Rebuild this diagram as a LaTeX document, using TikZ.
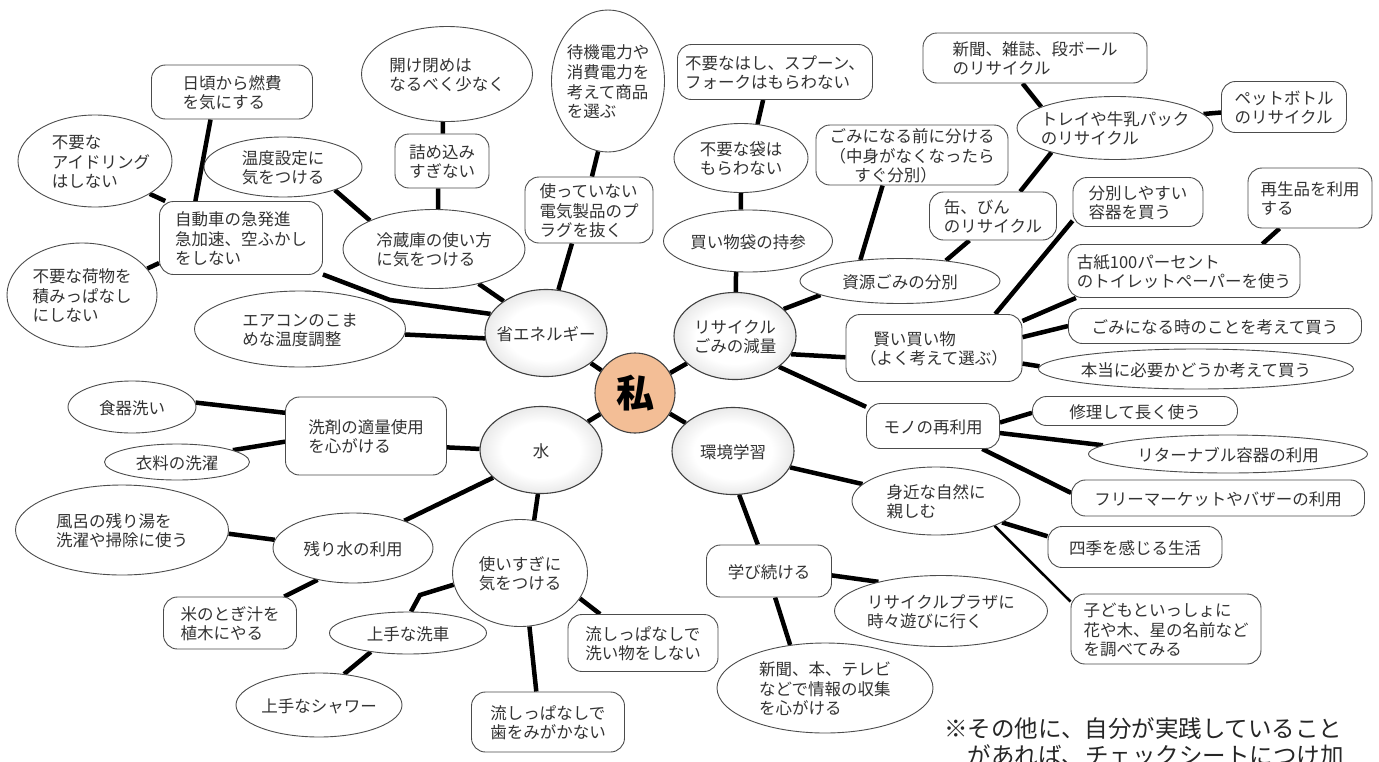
\documentclass[tikz,border=0pt]{standalone}
\usepackage{fontspec}
\setmainfont{Noto Sans CJK JP}
\usetikzlibrary{shapes.geometric}
\pgfdeclarelayer{bg}
\pgfsetlayers{bg,main}
\definecolor{peach}{HTML}{F3BE96}
\pgfdeclareradialshading{hubshade}{\pgfpoint{0bp}{0bp}}{color(0bp)=(white); color(16bp)=(white); color(50bp)=(black!32)}
\newcommand{\tx}[2][l]{\makebox[0pt]{\raisebox{-3pt}[\height][\depth]{\begin{tabular}{@{}#1@{}}#2\end{tabular}}}}
\tikzset{
  every node/.style={font=\fontsize{16.5}{19}\selectfont, text=black!80, inner sep=0pt},
  box/.style 2 args={draw=black!70, line width=.9pt, fill=white, rounded corners=14pt, minimum width=#1pt, minimum height=#2pt},
  oval/.style 2 args={ellipse, draw=black!70, line width=.9pt, fill=white, minimum width=#1pt, minimum height=#2pt},
  hub/.style={ellipse, draw=black!75, line width=1.1pt, shading=hubshade, minimum width=122pt, minimum height=87pt},
  link/.style={line width=4.5pt},
}
\begin{document}
\begin{tikzpicture}[x=1pt,y=-1pt]
\useasboundingbox (0,0) rectangle (1379,761);
\node[circle, draw=black!75, line width=1.1pt, fill=peach, minimum size=80pt, font=\fontsize{38}{38}\selectfont\bfseries, text=black] (me) at (635,393) {私};
\node[hub] (sho) at (546,333) {\tx{省エネルギー}};
\node[hub] (risa) at (735,336) {\tx[c]{リサイクル\\ごみの減量}};
\node[hub] (mizu) at (541,450) {\tx{水}};
\node[hub] (kankyo) at (733,451) {\tx{環境学習}};

\node[box={163}{73}] (jido) at (241,238) {\tx{自動車の急発進\\急加速、空ふかし\\をしない}};
\node[box={161}{54}] (higoro) at (232,92) {\tx{日頃から燃費\\を気にする}};
\node[oval={154}{92}] (idling) at (95,161) {\tx{\hspace*{12pt}不要な\\\hspace*{12pt}アイドリング\\\hspace*{12pt}はしない}};
\node[oval={150}{104}] (nimotsu) at (82,295) {\tx{不要な荷物を\\積みっぱなし\\にしない}};
\node[oval={158}{60}] (ondo) at (283,167) {\tx{温度設定に\\気をつける}};
\node[oval={211}{76}] (aircon) at (300,329) {\tx{エアコンのこま\\めな温度調整}};
\node[oval={182}{79}] (reizo) at (434,249) {\tx{冷蔵庫の使い方\\に気をつける}};
\node[box={94}{54}] (tsume) at (442,161) {\tx{詰め込み\\すぎない}};
\node[oval={171}{95}] (akeshime) at (447,74) {\tx{開け閉めは\\なるべく少なく}};
\node[oval={113}{142}] (taiki) at (608,81) {\tx{待機電力や\\消費電力を\\考えて商品\\を選ぶ}};
\node[box={128}{66}] (plug) at (589,210) {\tx{使っていない\\電気製品のプ\\ラグを抜く}};

\node[oval={169}{62}] (kaimono) at (748,241) {\tx{買い物袋の持参}};
\node[oval={134}{69}] (fuyobukuro) at (741,158) {\tx{不要な袋は\\もらわない}};
\node[box={195}{55}] (hashi) at (775,72) {\tx{不要なはし、スプーン、\\フォークはもらわない}};
\node[box={192}{60}] (maeni) at (912,155) {\tx{ごみになる前に分ける\\（中身がなくなったら\\\hspace*{1.5em}すぐ分別）}};
\node[oval={200}{45}] (shigen) at (900,281) {\tx{資源ごみの分別}};
\node[box={127}{48}] (kan) at (993,216) {\tx{缶、びん\\のリサイクル}};
\node[oval={196}{63}] (tray) at (1115,128) {\tx{トレイや牛乳パック\\のリサイクル}};
\node[box={224}{50}] (shinbun) at (1035,58) {\tx{新聞、雑誌、段ボール\\のリサイクル}};
\node[box={125}{51}] (pet) at (1284,107) {\tx{ペットボトル\\のリサイクル}};
\node[box={130}{49}] (bunbetsu) at (1138,202) {\tx{分別しやすい\\容器を買う}};
\node[box={124}{60}] (saisei) at (1310,198) {\tx{再生品を利用\\する}};
\node[box={232}{53}] (koshi) at (1184,271) {\tx{古紙100パーセント\\のトイレットペーパーを使う}};
\node[box={176}{67}] (kashikoi) at (934,348) {\tx{\hspace*{.8em}賢い買い物\\（よく考えて選ぶ）}};
\node[box={293}{35}] (gomitoki) at (1215,326) {\tx{ごみになる時のことを考えて買う}};
\node[oval={315}{40}] (hontou) at (1196,369) {\tx{本当に必要かどうか考えて買う}};
\node[box={133}{45}] (mono) at (933,426) {\tx{モノの再利用}};
\node[box={205}{29}] (shuri) at (1135,411) {\tx{修理して長く使う}};
\node[oval={279}{38}] (returnable) at (1228,454) {\tx{リターナブル容器の利用}};
\node[box={293}{36}] (flea) at (1218,498) {\tx{フリーマーケットやバザーの利用}};

\node[oval={168}{68}] (mijika) at (936,501) {\tx{身近な自然に\\親しむ}};
\node[box={174}{41}] (shiki) at (1135,547) {\tx{四季を感じる生活}};
\node[box={190}{70}] (kodomo) at (1166,629) {\tx{子どもといっしょに\\花や木、星の名前など\\を調べてみる}};
\node[box={125}{52}] (manabi) at (769,571) {\tx{学び続ける}};
\node[oval={213}{71}] (plaza) at (941,611) {\tx{リサイクルプラザに\\時々遊びに行く}};
\node[oval={216}{90}] (joho) at (825,688) {\tx{新聞、本、テレビ\\などで情報の収集\\を心がける}};

\node[box={161}{78}] (senzai) at (366,436) {\tx{洗剤の適量使用\\を心がける}};
\node[oval={128}{52}] (shokki) at (132,407) {\tx{食器洗い}};
\node[oval={145}{36}] (iryo) at (177,462) {\tx{衣料の洗濯}};
\node[oval={160}{70}] (nokori) at (353,548) {\tx{残り水の利用}};
\node[oval={213}{90}] (furo) at (122,530) {\tx{風呂の残り湯を\\洗濯や掃除に使う}};
\node[box={133}{52}] (kome) at (230,623) {\tx{米のとぎ汁を\\植木にやる}};
\node[oval={135}{107}] (tsukai) at (520,573) {\tx{使いすぎに\\気をつける}};
\node[oval={157}{42}] (sensha) at (408,633) {\tx{上手な洗車}};
\node[oval={166}{64}] (shower) at (319,705) {\tx{上手なシャワー}};
\node[box={150}{57}] (arai) at (643,643) {\tx{流しっぱなしで\\洗い物をしない}};
\node[box={153}{60}] (ha) at (548,722) {\tx{流しっぱなしで\\歯をみがかない}};

\node[anchor=north west, align=left, font=\fontsize{23.5}{27}\selectfont, text=black!85] (note) at (944,717) {※その他に、自分が実践していること\\\hspace*{1em}があれば、チェックシートにつけ加};

\coordinate (bendA) at (390,300);
\coordinate (bendB) at (420,595);
\begin{pgfonlayer}{bg}
\fill[white] (0,0) rectangle (1379,761);
\draw[link] (me) -- (sho);
\draw[link] (me) -- (risa);
\draw[link] (me) -- (mizu);
\draw[link] (me) -- (kankyo);
\draw[link] (jido.-24) -- (bendA) -- (sho.161);
\draw[link] (aircon.-3) -- (sho.185);
\draw[link] (reizo.-38) -- (sho.143);
\draw[link] (plug.243) -- (sho.74);
\draw[link] (higoro.232) -- (jido.141);
\draw[link] (idling.-31) -- (jido.154);
\draw[link] (nimotsu.22) -- (jido.197);
\draw[link] (ondo.-24) -- (reizo.156);
\draw[link] (tsume.262) -- (reizo.84);
\draw[link] (akeshime.265) -- (tsume.88);
\draw[link] (taiki.262) -- (plug.85);
\draw[link] (risa.89) -- (kaimono.249);
\draw[link] (kaimono.103) -- (fuyobukuro.south);
\draw[link] (fuyobukuro.64) -- (hashi.247);
\draw[link] (risa.29) -- (shigen.190);
\draw[link] (shigen.152) -- (maeni.226);
\draw[link] (shigen.24) -- (kan.226);
\draw[link] (kan.42) -- (tray.201);
\draw[link] (tray.164) -- (shinbun.244);
\draw[link] (tray.9) -- (pet.185);
\draw[link] (risa.-18) -- (kashikoi.186);
\draw[link] (kashikoi.29) -- (bunbetsu.196);
\draw[link] (kashikoi.17) -- (koshi.194);
\draw[link] (koshi.19) -- (saisei.225);
\draw[link] (kashikoi.7) -- (gomitoki.180);
\draw[link] (kashikoi.-10) -- (hontou.179);
\draw[link] (risa.-35) -- (mono.164);
\draw[link] (mono.3) -- (shuri.181);
\draw[link] (mono.-6) -- (returnable.176);
\draw[link] (mono.-25) -- (flea.178);
\draw[link] (kankyo.-16) -- (mijika.167);
\draw[link] (kankyo.-82) -- (manabi.113);
\draw[link] (manabi.-4) -- (plaza.155);
\draw[link] (manabi.-77) -- (joho.129);
\draw[link] (mijika.-18) -- (shiki.173);
\draw[link, line width=2.6pt] (mijika.-23) -- (kodomo.164);
\draw[link] (mizu.179) -- (senzai.-8);
\draw[link] (mizu.210) -- (nokori.28);
\draw[link] (mizu.266) -- (tsukai.75);
\draw[link] (senzai.164) -- (shokki.4);
\draw[link] (senzai.184) -- (iryo.12);
\draw[link] (nokori.174) -- (furo.-2);
\draw[link] (nokori.222) -- (kome.26);
\draw[link] (tsukai.190) -- (bendB) -- (sensha.82);
\draw[link] (sensha.207) -- (shower.51);
\draw[link] (tsukai.-23) -- (arai.146);
\draw[link] (tsukai.-80) -- (ha.111);
\end{pgfonlayer}
\end{tikzpicture}
\end{document}
